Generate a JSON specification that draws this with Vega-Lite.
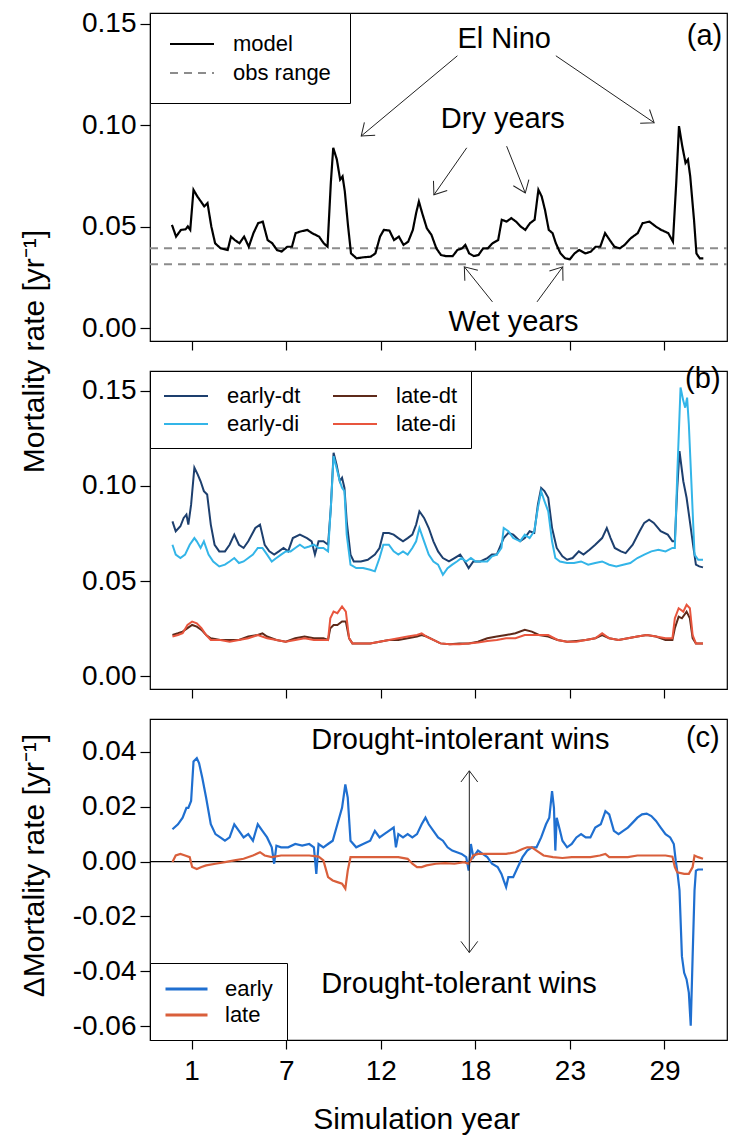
{
  "$schema": "https://vega.github.io/schema/vega-lite/v6.json",
  "background": "white",
  "padding": {"left": 18, "top": 9, "right": 5, "bottom": 5},
  "spacing": 30,
  "bounds": "flush",
  "config": {
    "font": "Liberation Sans",
    "view": {"stroke": "black", "strokeWidth": 1.2},
    "axis": {"domain": false, "grid": false, "tickColor": "black", "tickSize": 10, "tickWidth": 1.2, "labelFont": "Liberation Sans", "labelFontSize": 28, "labelColor": "black", "labelPadding": 4, "titleFont": "Liberation Sans", "titleFontSize": 30, "titleFontWeight": "normal", "titleColor": "black", "labelOverlap": false},
    "legend": {"labelFont": "Liberation Sans", "labelColor": "black"},
    "text": {"font": "Liberation Sans"}
  },
  "resolve": {"scale": {"color": "independent", "strokeDash": "independent"}, "legend": {"color": "independent", "strokeDash": "independent"}},
  "datasets": {
    "model": [
      {"year": -0.14, "rate": 0.0509}, {"year": 0.10, "rate": 0.0451}, {"year": 0.38, "rate": 0.0484}, {"year": 0.65, "rate": 0.0487}, {"year": 0.78, "rate": 0.0501}, {"year": 0.92, "rate": 0.0484}, {"year": 1.11, "rate": 0.0682}, {"year": 1.33, "rate": 0.0649}, {"year": 1.54, "rate": 0.0624}, {"year": 1.73, "rate": 0.0600}, {"year": 1.92, "rate": 0.0616}, {"year": 2.14, "rate": 0.0501}, {"year": 2.36, "rate": 0.0418}, {"year": 2.68, "rate": 0.0393}, {"year": 3.09, "rate": 0.0385}, {"year": 3.28, "rate": 0.0451}, {"year": 3.50, "rate": 0.0434}, {"year": 3.77, "rate": 0.0418}, {"year": 4.04, "rate": 0.0451}, {"year": 4.31, "rate": 0.0401}, {"year": 4.58, "rate": 0.0468}, {"year": 4.85, "rate": 0.0517}, {"year": 5.12, "rate": 0.0525}, {"year": 5.40, "rate": 0.0434}, {"year": 5.67, "rate": 0.0418}, {"year": 5.94, "rate": 0.0385}, {"year": 6.21, "rate": 0.0377}, {"year": 6.54, "rate": 0.0401}, {"year": 6.81, "rate": 0.0401}, {"year": 7.02, "rate": 0.0468}, {"year": 7.30, "rate": 0.0476}, {"year": 7.70, "rate": 0.0484}, {"year": 7.97, "rate": 0.0468}, {"year": 8.38, "rate": 0.0451}, {"year": 8.65, "rate": 0.0418}, {"year": 8.87, "rate": 0.0401}, {"year": 9.06, "rate": 0.0715}, {"year": 9.20, "rate": 0.0889}, {"year": 9.41, "rate": 0.0831}, {"year": 9.60, "rate": 0.0732}, {"year": 9.74, "rate": 0.0748}, {"year": 9.87, "rate": 0.0674}, {"year": 10.06, "rate": 0.0501}, {"year": 10.23, "rate": 0.0368}, {"year": 10.55, "rate": 0.0344}, {"year": 10.96, "rate": 0.0349}, {"year": 11.37, "rate": 0.0352}, {"year": 11.64, "rate": 0.0368}, {"year": 11.91, "rate": 0.0451}, {"year": 12.13, "rate": 0.0484}, {"year": 12.45, "rate": 0.0481}, {"year": 12.72, "rate": 0.0434}, {"year": 13.00, "rate": 0.0451}, {"year": 13.27, "rate": 0.0410}, {"year": 13.54, "rate": 0.0426}, {"year": 13.81, "rate": 0.0484}, {"year": 14.00, "rate": 0.0567}, {"year": 14.16, "rate": 0.0624}, {"year": 14.35, "rate": 0.0567}, {"year": 14.62, "rate": 0.0492}, {"year": 14.89, "rate": 0.0459}, {"year": 15.17, "rate": 0.0393}, {"year": 15.44, "rate": 0.0360}, {"year": 15.71, "rate": 0.0355}, {"year": 16.12, "rate": 0.0355}, {"year": 16.39, "rate": 0.0385}, {"year": 16.66, "rate": 0.0393}, {"year": 16.85, "rate": 0.0410}, {"year": 17.07, "rate": 0.0368}, {"year": 17.34, "rate": 0.0355}, {"year": 17.61, "rate": 0.0360}, {"year": 17.88, "rate": 0.0393}, {"year": 18.15, "rate": 0.0393}, {"year": 18.42, "rate": 0.0418}, {"year": 18.75, "rate": 0.0434}, {"year": 18.96, "rate": 0.0534}, {"year": 19.24, "rate": 0.0525}, {"year": 19.51, "rate": 0.0542}, {"year": 19.78, "rate": 0.0525}, {"year": 20.05, "rate": 0.0501}, {"year": 20.32, "rate": 0.0484}, {"year": 20.59, "rate": 0.0517}, {"year": 20.86, "rate": 0.0534}, {"year": 21.08, "rate": 0.0682}, {"year": 21.27, "rate": 0.0649}, {"year": 21.46, "rate": 0.0583}, {"year": 21.68, "rate": 0.0484}, {"year": 21.90, "rate": 0.0468}, {"year": 22.09, "rate": 0.0418}, {"year": 22.36, "rate": 0.0368}, {"year": 22.63, "rate": 0.0344}, {"year": 22.90, "rate": 0.0339}, {"year": 23.17, "rate": 0.0368}, {"year": 23.44, "rate": 0.0385}, {"year": 23.80, "rate": 0.0368}, {"year": 24.12, "rate": 0.0377}, {"year": 24.39, "rate": 0.0401}, {"year": 24.66, "rate": 0.0401}, {"year": 24.94, "rate": 0.0468}, {"year": 25.21, "rate": 0.0434}, {"year": 25.48, "rate": 0.0401}, {"year": 25.80, "rate": 0.0393}, {"year": 26.07, "rate": 0.0410}, {"year": 26.43, "rate": 0.0443}, {"year": 26.83, "rate": 0.0468}, {"year": 27.11, "rate": 0.0517}, {"year": 27.51, "rate": 0.0525}, {"year": 27.87, "rate": 0.0501}, {"year": 28.19, "rate": 0.0484}, {"year": 28.60, "rate": 0.0468}, {"year": 28.87, "rate": 0.0426}, {"year": 29.06, "rate": 0.0715}, {"year": 29.22, "rate": 0.0996}, {"year": 29.41, "rate": 0.0897}, {"year": 29.60, "rate": 0.0814}, {"year": 29.74, "rate": 0.0831}, {"year": 29.87, "rate": 0.0748}, {"year": 30.09, "rate": 0.0534}, {"year": 30.23, "rate": 0.0368}, {"year": 30.42, "rate": 0.0344}, {"year": 30.63, "rate": 0.0344}
    ],
    "obs": [
      {"series": "obs range", "year": -1.41, "year2": 32.0, "rate": 0.0393},
      {"series": "obs range", "year": -1.41, "year2": 32.0, "rate": 0.0314}
    ],
    "labelsA": [
      {"label": "El Nino", "year": 19.1, "rate": 0.1426},
      {"label": "Dry years", "year": 19.02, "rate": 0.1029},
      {"label": "Wet years", "year": 19.64, "rate": 0.003},
      {"label": "(a)", "year": 30.7, "rate": 0.1442}
    ],
    "arrowsA": [
      {"year": 16.39, "rate": 0.1343, "year2": 10.82, "rate2": 0.0947},
      {"year": 22.09, "rate": 0.1343, "year2": 27.78, "rate2": 0.1013},
      {"year": 16.93, "rate": 0.0889, "year2": 15.03, "rate2": 0.0657},
      {"year": 19.24, "rate": 0.0897, "year2": 20.32, "rate2": 0.0666},
      {"year": 18.42, "rate": 0.0129, "year2": 16.79, "rate2": 0.0302},
      {"year": 21.00, "rate": 0.0129, "year2": 22.49, "rate2": 0.0302}
    ],
    "headsA": [
      {"year": 10.82, "rate": 0.0947, "angle": 140},
      {"year": 27.78, "rate": 0.1013, "angle": 34},
      {"year": 15.03, "rate": 0.0657, "angle": 125},
      {"year": 20.32, "rate": 0.0666, "angle": 68},
      {"year": 16.79, "rate": 0.0302, "angle": 231},
      {"year": 22.49, "rate": 0.0302, "angle": 306}
    ],
    "groups": [
      {"series": "early-dt", "year": -0.11, "rate": 0.0814}, {"series": "early-dt", "year": 0.08, "rate": 0.0762}, {"series": "early-dt", "year": 0.35, "rate": 0.0788}, {"series": "early-dt", "year": 0.54, "rate": 0.0832}, {"series": "early-dt", "year": 0.70, "rate": 0.0850}, {"series": "early-dt", "year": 0.81, "rate": 0.0797}, {"series": "early-dt", "year": 0.97, "rate": 0.0902}, {"series": "early-dt", "year": 1.16, "rate": 0.1096}, {"series": "early-dt", "year": 1.35, "rate": 0.1061}, {"series": "early-dt", "year": 1.52, "rate": 0.1025}, {"series": "early-dt", "year": 1.71, "rate": 0.0973}, {"series": "early-dt", "year": 1.90, "rate": 0.0955}, {"series": "early-dt", "year": 2.11, "rate": 0.0797}, {"series": "early-dt", "year": 2.33, "rate": 0.0691}, {"series": "early-dt", "year": 2.60, "rate": 0.0656}, {"series": "early-dt", "year": 2.93, "rate": 0.0656}, {"series": "early-dt", "year": 3.20, "rate": 0.0691}, {"series": "early-dt", "year": 3.47, "rate": 0.0744}, {"series": "early-dt", "year": 3.74, "rate": 0.0691}, {"series": "early-dt", "year": 4.01, "rate": 0.0674}, {"series": "early-dt", "year": 4.28, "rate": 0.0709}, {"series": "early-dt", "year": 4.69, "rate": 0.0779}, {"series": "early-dt", "year": 4.96, "rate": 0.0797}, {"series": "early-dt", "year": 5.23, "rate": 0.0691}, {"series": "early-dt", "year": 5.50, "rate": 0.0656}, {"series": "early-dt", "year": 5.78, "rate": 0.0639}, {"series": "early-dt", "year": 6.05, "rate": 0.0656}, {"series": "early-dt", "year": 6.32, "rate": 0.0674}, {"series": "early-dt", "year": 6.59, "rate": 0.0656}, {"series": "early-dt", "year": 6.86, "rate": 0.0726}, {"series": "early-dt", "year": 7.27, "rate": 0.0744}, {"series": "early-dt", "year": 7.68, "rate": 0.0726}, {"series": "early-dt", "year": 7.95, "rate": 0.0709}, {"series": "early-dt", "year": 8.14, "rate": 0.0639}, {"series": "early-dt", "year": 8.35, "rate": 0.0709}, {"series": "early-dt", "year": 8.63, "rate": 0.0709}, {"series": "early-dt", "year": 8.90, "rate": 0.0691}, {"series": "early-dt", "year": 9.06, "rate": 0.0885}, {"series": "early-dt", "year": 9.22, "rate": 0.1175}, {"series": "early-dt", "year": 9.39, "rate": 0.1113}, {"series": "early-dt", "year": 9.58, "rate": 0.1025}, {"series": "early-dt", "year": 9.71, "rate": 0.1043}, {"series": "early-dt", "year": 9.85, "rate": 0.0990}, {"series": "early-dt", "year": 9.98, "rate": 0.0814}, {"series": "early-dt", "year": 10.20, "rate": 0.0639}, {"series": "early-dt", "year": 10.39, "rate": 0.0603}, {"series": "early-dt", "year": 10.80, "rate": 0.0603}, {"series": "early-dt", "year": 11.20, "rate": 0.0612}, {"series": "early-dt", "year": 11.61, "rate": 0.0639}, {"series": "early-dt", "year": 11.88, "rate": 0.0674}, {"series": "early-dt", "year": 12.10, "rate": 0.0753}, {"series": "early-dt", "year": 12.42, "rate": 0.0753}, {"series": "early-dt", "year": 12.70, "rate": 0.0744}, {"series": "early-dt", "year": 12.97, "rate": 0.0726}, {"series": "early-dt", "year": 13.24, "rate": 0.0709}, {"series": "early-dt", "year": 13.51, "rate": 0.0726}, {"series": "early-dt", "year": 13.78, "rate": 0.0744}, {"series": "early-dt", "year": 14.00, "rate": 0.0797}, {"series": "early-dt", "year": 14.19, "rate": 0.0867}, {"series": "early-dt", "year": 14.46, "rate": 0.0832}, {"series": "early-dt", "year": 14.73, "rate": 0.0779}, {"series": "early-dt", "year": 15.00, "rate": 0.0709}, {"series": "early-dt", "year": 15.27, "rate": 0.0656}, {"series": "early-dt", "year": 15.55, "rate": 0.0621}, {"series": "early-dt", "year": 15.90, "rate": 0.0603}, {"series": "early-dt", "year": 16.22, "rate": 0.0621}, {"series": "early-dt", "year": 16.55, "rate": 0.0639}, {"series": "early-dt", "year": 16.82, "rate": 0.0603}, {"series": "early-dt", "year": 17.04, "rate": 0.0568}, {"series": "early-dt", "year": 17.31, "rate": 0.0603}, {"series": "early-dt", "year": 17.72, "rate": 0.0603}, {"series": "early-dt", "year": 18.12, "rate": 0.0621}, {"series": "early-dt", "year": 18.39, "rate": 0.0639}, {"series": "early-dt", "year": 18.67, "rate": 0.0639}, {"series": "early-dt", "year": 19.07, "rate": 0.0726}, {"series": "early-dt", "year": 19.34, "rate": 0.0753}, {"series": "early-dt", "year": 19.62, "rate": 0.0744}, {"series": "early-dt", "year": 20.02, "rate": 0.0709}, {"series": "early-dt", "year": 20.29, "rate": 0.0726}, {"series": "early-dt", "year": 20.57, "rate": 0.0762}, {"series": "early-dt", "year": 20.84, "rate": 0.0753}, {"series": "early-dt", "year": 21.05, "rate": 0.0902}, {"series": "early-dt", "year": 21.24, "rate": 0.0990}, {"series": "early-dt", "year": 21.43, "rate": 0.0973}, {"series": "early-dt", "year": 21.65, "rate": 0.0938}, {"series": "early-dt", "year": 21.87, "rate": 0.0779}, {"series": "early-dt", "year": 22.14, "rate": 0.0674}, {"series": "early-dt", "year": 22.47, "rate": 0.0630}, {"series": "early-dt", "year": 22.74, "rate": 0.0612}, {"series": "early-dt", "year": 23.06, "rate": 0.0621}, {"series": "early-dt", "year": 23.42, "rate": 0.0656}, {"series": "early-dt", "year": 23.69, "rate": 0.0639}, {"series": "early-dt", "year": 24.04, "rate": 0.0665}, {"series": "early-dt", "year": 24.37, "rate": 0.0691}, {"series": "early-dt", "year": 24.77, "rate": 0.0726}, {"series": "early-dt", "year": 25.04, "rate": 0.0779}, {"series": "early-dt", "year": 25.26, "rate": 0.0726}, {"series": "early-dt", "year": 25.50, "rate": 0.0674}, {"series": "early-dt", "year": 25.86, "rate": 0.0656}, {"series": "early-dt", "year": 26.13, "rate": 0.0647}, {"series": "early-dt", "year": 26.54, "rate": 0.0691}, {"series": "early-dt", "year": 26.94, "rate": 0.0762}, {"series": "early-dt", "year": 27.21, "rate": 0.0806}, {"series": "early-dt", "year": 27.49, "rate": 0.0823}, {"series": "early-dt", "year": 27.76, "rate": 0.0806}, {"series": "early-dt", "year": 28.16, "rate": 0.0762}, {"series": "early-dt", "year": 28.57, "rate": 0.0744}, {"series": "early-dt", "year": 28.84, "rate": 0.0709}, {"series": "early-dt", "year": 28.98, "rate": 0.0709}, {"series": "early-dt", "year": 29.12, "rate": 0.0990}, {"series": "early-dt", "year": 29.25, "rate": 0.1184}, {"series": "early-dt", "year": 29.47, "rate": 0.1025}, {"series": "early-dt", "year": 29.66, "rate": 0.0938}, {"series": "early-dt", "year": 29.85, "rate": 0.0814}, {"series": "early-dt", "year": 30.06, "rate": 0.0674}, {"series": "early-dt", "year": 30.20, "rate": 0.0586}, {"series": "early-dt", "year": 30.39, "rate": 0.0577}, {"series": "early-dt", "year": 30.61, "rate": 0.0572},
      {"series": "early-di", "year": -0.11, "rate": 0.0691}, {"series": "early-di", "year": 0.08, "rate": 0.0639}, {"series": "early-di", "year": 0.35, "rate": 0.0621}, {"series": "early-di", "year": 0.62, "rate": 0.0639}, {"series": "early-di", "year": 0.89, "rate": 0.0691}, {"series": "early-di", "year": 1.16, "rate": 0.0726}, {"series": "early-di", "year": 1.30, "rate": 0.0709}, {"series": "early-di", "year": 1.52, "rate": 0.0674}, {"series": "early-di", "year": 1.71, "rate": 0.0709}, {"series": "early-di", "year": 1.98, "rate": 0.0639}, {"series": "early-di", "year": 2.25, "rate": 0.0603}, {"series": "early-di", "year": 2.60, "rate": 0.0577}, {"series": "early-di", "year": 2.93, "rate": 0.0586}, {"series": "early-di", "year": 3.20, "rate": 0.0603}, {"series": "early-di", "year": 3.47, "rate": 0.0621}, {"series": "early-di", "year": 3.74, "rate": 0.0595}, {"series": "early-di", "year": 4.01, "rate": 0.0603}, {"series": "early-di", "year": 4.28, "rate": 0.0621}, {"series": "early-di", "year": 4.55, "rate": 0.0639}, {"series": "early-di", "year": 4.83, "rate": 0.0674}, {"series": "early-di", "year": 5.10, "rate": 0.0674}, {"series": "early-di", "year": 5.37, "rate": 0.0639}, {"series": "early-di", "year": 5.64, "rate": 0.0603}, {"series": "early-di", "year": 5.91, "rate": 0.0621}, {"series": "early-di", "year": 6.18, "rate": 0.0639}, {"series": "early-di", "year": 6.45, "rate": 0.0656}, {"series": "early-di", "year": 6.73, "rate": 0.0656}, {"series": "early-di", "year": 7.00, "rate": 0.0674}, {"series": "early-di", "year": 7.27, "rate": 0.0691}, {"series": "early-di", "year": 7.54, "rate": 0.0674}, {"series": "early-di", "year": 7.81, "rate": 0.0682}, {"series": "early-di", "year": 8.08, "rate": 0.0691}, {"series": "early-di", "year": 8.35, "rate": 0.0674}, {"series": "early-di", "year": 8.63, "rate": 0.0674}, {"series": "early-di", "year": 8.90, "rate": 0.0656}, {"series": "early-di", "year": 9.06, "rate": 0.0885}, {"series": "early-di", "year": 9.22, "rate": 0.1157}, {"series": "early-di", "year": 9.39, "rate": 0.1096}, {"series": "early-di", "year": 9.58, "rate": 0.1025}, {"series": "early-di", "year": 9.71, "rate": 0.0990}, {"series": "early-di", "year": 9.85, "rate": 0.0973}, {"series": "early-di", "year": 9.98, "rate": 0.0744}, {"series": "early-di", "year": 10.20, "rate": 0.0586}, {"series": "early-di", "year": 10.53, "rate": 0.0568}, {"series": "early-di", "year": 10.93, "rate": 0.0568}, {"series": "early-di", "year": 11.34, "rate": 0.0559}, {"series": "early-di", "year": 11.61, "rate": 0.0551}, {"series": "early-di", "year": 11.88, "rate": 0.0621}, {"series": "early-di", "year": 12.10, "rate": 0.0691}, {"series": "early-di", "year": 12.42, "rate": 0.0691}, {"series": "early-di", "year": 12.70, "rate": 0.0656}, {"series": "early-di", "year": 12.97, "rate": 0.0639}, {"series": "early-di", "year": 13.24, "rate": 0.0656}, {"series": "early-di", "year": 13.51, "rate": 0.0639}, {"series": "early-di", "year": 13.78, "rate": 0.0674}, {"series": "early-di", "year": 14.00, "rate": 0.0709}, {"series": "early-di", "year": 14.19, "rate": 0.0779}, {"series": "early-di", "year": 14.46, "rate": 0.0709}, {"series": "early-di", "year": 14.73, "rate": 0.0639}, {"series": "early-di", "year": 15.00, "rate": 0.0603}, {"series": "early-di", "year": 15.27, "rate": 0.0586}, {"series": "early-di", "year": 15.55, "rate": 0.0533}, {"series": "early-di", "year": 15.82, "rate": 0.0568}, {"series": "early-di", "year": 16.09, "rate": 0.0586}, {"series": "early-di", "year": 16.36, "rate": 0.0603}, {"series": "early-di", "year": 16.63, "rate": 0.0621}, {"series": "early-di", "year": 16.90, "rate": 0.0603}, {"series": "early-di", "year": 17.17, "rate": 0.0621}, {"series": "early-di", "year": 17.45, "rate": 0.0603}, {"series": "early-di", "year": 17.72, "rate": 0.0603}, {"series": "early-di", "year": 18.12, "rate": 0.0603}, {"series": "early-di", "year": 18.39, "rate": 0.0630}, {"series": "early-di", "year": 18.67, "rate": 0.0639}, {"series": "early-di", "year": 18.94, "rate": 0.0674}, {"series": "early-di", "year": 19.07, "rate": 0.0779}, {"series": "early-di", "year": 19.34, "rate": 0.0762}, {"series": "early-di", "year": 19.62, "rate": 0.0726}, {"series": "early-di", "year": 20.02, "rate": 0.0709}, {"series": "early-di", "year": 20.29, "rate": 0.0744}, {"series": "early-di", "year": 20.57, "rate": 0.0726}, {"series": "early-di", "year": 20.84, "rate": 0.0762}, {"series": "early-di", "year": 21.05, "rate": 0.0885}, {"series": "early-di", "year": 21.24, "rate": 0.0973}, {"series": "early-di", "year": 21.43, "rate": 0.0920}, {"series": "early-di", "year": 21.65, "rate": 0.0867}, {"series": "early-di", "year": 21.87, "rate": 0.0709}, {"series": "early-di", "year": 22.06, "rate": 0.0621}, {"series": "early-di", "year": 22.33, "rate": 0.0603}, {"series": "early-di", "year": 22.74, "rate": 0.0595}, {"series": "early-di", "year": 23.14, "rate": 0.0595}, {"series": "early-di", "year": 23.55, "rate": 0.0603}, {"series": "early-di", "year": 23.96, "rate": 0.0586}, {"series": "early-di", "year": 24.37, "rate": 0.0595}, {"series": "early-di", "year": 24.77, "rate": 0.0603}, {"series": "early-di", "year": 25.18, "rate": 0.0586}, {"series": "early-di", "year": 25.59, "rate": 0.0577}, {"series": "early-di", "year": 25.99, "rate": 0.0586}, {"series": "early-di", "year": 26.40, "rate": 0.0595}, {"series": "early-di", "year": 26.81, "rate": 0.0621}, {"series": "early-di", "year": 27.21, "rate": 0.0639}, {"series": "early-di", "year": 27.62, "rate": 0.0656}, {"series": "early-di", "year": 28.03, "rate": 0.0665}, {"series": "early-di", "year": 28.44, "rate": 0.0656}, {"series": "early-di", "year": 28.84, "rate": 0.0674}, {"series": "early-di", "year": 28.98, "rate": 0.0674}, {"series": "early-di", "year": 29.12, "rate": 0.1061}, {"series": "early-di", "year": 29.31, "rate": 0.1518}, {"series": "early-di", "year": 29.47, "rate": 0.1448}, {"series": "early-di", "year": 29.58, "rate": 0.1412}, {"series": "early-di", "year": 29.69, "rate": 0.1465}, {"series": "early-di", "year": 29.79, "rate": 0.1325}, {"series": "early-di", "year": 29.96, "rate": 0.0973}, {"series": "early-di", "year": 30.12, "rate": 0.0639}, {"series": "early-di", "year": 30.33, "rate": 0.0612}, {"series": "early-di", "year": 30.61, "rate": 0.0612},
      {"series": "late-dt", "year": -0.11, "rate": 0.0216}, {"series": "late-dt", "year": 0.21, "rate": 0.0225}, {"series": "late-dt", "year": 0.48, "rate": 0.0234}, {"series": "late-dt", "year": 0.76, "rate": 0.0252}, {"series": "late-dt", "year": 1.03, "rate": 0.0269}, {"series": "late-dt", "year": 1.30, "rate": 0.0260}, {"series": "late-dt", "year": 1.57, "rate": 0.0243}, {"series": "late-dt", "year": 1.84, "rate": 0.0216}, {"series": "late-dt", "year": 2.11, "rate": 0.0199}, {"series": "late-dt", "year": 2.66, "rate": 0.0190}, {"series": "late-dt", "year": 3.20, "rate": 0.0190}, {"series": "late-dt", "year": 3.74, "rate": 0.0190}, {"series": "late-dt", "year": 4.28, "rate": 0.0208}, {"series": "late-dt", "year": 4.83, "rate": 0.0216}, {"series": "late-dt", "year": 5.10, "rate": 0.0225}, {"series": "late-dt", "year": 5.37, "rate": 0.0208}, {"series": "late-dt", "year": 5.91, "rate": 0.0190}, {"series": "late-dt", "year": 6.45, "rate": 0.0181}, {"series": "late-dt", "year": 7.00, "rate": 0.0199}, {"series": "late-dt", "year": 7.54, "rate": 0.0208}, {"series": "late-dt", "year": 8.08, "rate": 0.0199}, {"series": "late-dt", "year": 8.63, "rate": 0.0199}, {"series": "late-dt", "year": 8.90, "rate": 0.0190}, {"series": "late-dt", "year": 9.03, "rate": 0.0252}, {"series": "late-dt", "year": 9.22, "rate": 0.0269}, {"series": "late-dt", "year": 9.44, "rate": 0.0269}, {"series": "late-dt", "year": 9.71, "rate": 0.0287}, {"series": "late-dt", "year": 9.93, "rate": 0.0287}, {"series": "late-dt", "year": 10.12, "rate": 0.0199}, {"series": "late-dt", "year": 10.31, "rate": 0.0172}, {"series": "late-dt", "year": 10.80, "rate": 0.0172}, {"series": "late-dt", "year": 11.34, "rate": 0.0172}, {"series": "late-dt", "year": 11.88, "rate": 0.0181}, {"series": "late-dt", "year": 12.42, "rate": 0.0190}, {"series": "late-dt", "year": 12.97, "rate": 0.0190}, {"series": "late-dt", "year": 13.51, "rate": 0.0199}, {"series": "late-dt", "year": 14.05, "rate": 0.0208}, {"series": "late-dt", "year": 14.32, "rate": 0.0216}, {"series": "late-dt", "year": 14.60, "rate": 0.0208}, {"series": "late-dt", "year": 15.00, "rate": 0.0190}, {"series": "late-dt", "year": 15.41, "rate": 0.0172}, {"series": "late-dt", "year": 15.95, "rate": 0.0167}, {"series": "late-dt", "year": 16.50, "rate": 0.0172}, {"series": "late-dt", "year": 17.04, "rate": 0.0172}, {"series": "late-dt", "year": 17.58, "rate": 0.0181}, {"series": "late-dt", "year": 18.12, "rate": 0.0199}, {"series": "late-dt", "year": 18.67, "rate": 0.0208}, {"series": "late-dt", "year": 19.21, "rate": 0.0216}, {"series": "late-dt", "year": 19.75, "rate": 0.0225}, {"series": "late-dt", "year": 20.29, "rate": 0.0243}, {"series": "late-dt", "year": 20.70, "rate": 0.0234}, {"series": "late-dt", "year": 21.11, "rate": 0.0216}, {"series": "late-dt", "year": 21.65, "rate": 0.0208}, {"series": "late-dt", "year": 22.19, "rate": 0.0190}, {"series": "late-dt", "year": 22.74, "rate": 0.0181}, {"series": "late-dt", "year": 23.28, "rate": 0.0185}, {"series": "late-dt", "year": 23.82, "rate": 0.0190}, {"series": "late-dt", "year": 24.37, "rate": 0.0199}, {"series": "late-dt", "year": 24.77, "rate": 0.0216}, {"series": "late-dt", "year": 25.18, "rate": 0.0199}, {"series": "late-dt", "year": 25.72, "rate": 0.0190}, {"series": "late-dt", "year": 26.26, "rate": 0.0199}, {"series": "late-dt", "year": 26.81, "rate": 0.0208}, {"series": "late-dt", "year": 27.35, "rate": 0.0216}, {"series": "late-dt", "year": 27.89, "rate": 0.0208}, {"series": "late-dt", "year": 28.44, "rate": 0.0190}, {"series": "late-dt", "year": 28.84, "rate": 0.0190}, {"series": "late-dt", "year": 28.98, "rate": 0.0252}, {"series": "late-dt", "year": 29.20, "rate": 0.0313}, {"series": "late-dt", "year": 29.39, "rate": 0.0304}, {"series": "late-dt", "year": 29.66, "rate": 0.0339}, {"series": "late-dt", "year": 29.85, "rate": 0.0304}, {"series": "late-dt", "year": 30.01, "rate": 0.0199}, {"series": "late-dt", "year": 30.20, "rate": 0.0172}, {"series": "late-dt", "year": 30.61, "rate": 0.0172},
      {"series": "late-di", "year": -0.11, "rate": 0.0208}, {"series": "late-di", "year": 0.21, "rate": 0.0216}, {"series": "late-di", "year": 0.48, "rate": 0.0225}, {"series": "late-di", "year": 0.76, "rate": 0.0269}, {"series": "late-di", "year": 1.03, "rate": 0.0287}, {"series": "late-di", "year": 1.30, "rate": 0.0278}, {"series": "late-di", "year": 1.57, "rate": 0.0252}, {"series": "late-di", "year": 1.84, "rate": 0.0216}, {"series": "late-di", "year": 2.11, "rate": 0.0190}, {"series": "late-di", "year": 2.66, "rate": 0.0190}, {"series": "late-di", "year": 3.20, "rate": 0.0181}, {"series": "late-di", "year": 3.74, "rate": 0.0190}, {"series": "late-di", "year": 4.28, "rate": 0.0199}, {"series": "late-di", "year": 4.83, "rate": 0.0216}, {"series": "late-di", "year": 5.37, "rate": 0.0199}, {"series": "late-di", "year": 5.91, "rate": 0.0190}, {"series": "late-di", "year": 6.45, "rate": 0.0181}, {"series": "late-di", "year": 7.00, "rate": 0.0190}, {"series": "late-di", "year": 7.54, "rate": 0.0199}, {"series": "late-di", "year": 8.08, "rate": 0.0190}, {"series": "late-di", "year": 8.63, "rate": 0.0190}, {"series": "late-di", "year": 8.90, "rate": 0.0190}, {"series": "late-di", "year": 9.03, "rate": 0.0304}, {"series": "late-di", "year": 9.22, "rate": 0.0339}, {"series": "late-di", "year": 9.44, "rate": 0.0331}, {"series": "late-di", "year": 9.71, "rate": 0.0366}, {"series": "late-di", "year": 9.93, "rate": 0.0339}, {"series": "late-di", "year": 10.12, "rate": 0.0199}, {"series": "late-di", "year": 10.31, "rate": 0.0172}, {"series": "late-di", "year": 10.80, "rate": 0.0172}, {"series": "late-di", "year": 11.34, "rate": 0.0172}, {"series": "late-di", "year": 11.88, "rate": 0.0181}, {"series": "late-di", "year": 12.42, "rate": 0.0190}, {"series": "late-di", "year": 12.97, "rate": 0.0199}, {"series": "late-di", "year": 13.51, "rate": 0.0208}, {"series": "late-di", "year": 14.05, "rate": 0.0216}, {"series": "late-di", "year": 14.32, "rate": 0.0225}, {"series": "late-di", "year": 14.60, "rate": 0.0208}, {"series": "late-di", "year": 15.00, "rate": 0.0190}, {"series": "late-di", "year": 15.41, "rate": 0.0172}, {"series": "late-di", "year": 15.95, "rate": 0.0167}, {"series": "late-di", "year": 16.50, "rate": 0.0167}, {"series": "late-di", "year": 17.04, "rate": 0.0172}, {"series": "late-di", "year": 17.58, "rate": 0.0176}, {"series": "late-di", "year": 18.12, "rate": 0.0185}, {"series": "late-di", "year": 18.67, "rate": 0.0190}, {"series": "late-di", "year": 19.21, "rate": 0.0199}, {"series": "late-di", "year": 19.75, "rate": 0.0199}, {"series": "late-di", "year": 20.29, "rate": 0.0216}, {"series": "late-di", "year": 20.70, "rate": 0.0216}, {"series": "late-di", "year": 21.11, "rate": 0.0216}, {"series": "late-di", "year": 21.65, "rate": 0.0216}, {"series": "late-di", "year": 22.19, "rate": 0.0190}, {"series": "late-di", "year": 22.74, "rate": 0.0181}, {"series": "late-di", "year": 23.28, "rate": 0.0181}, {"series": "late-di", "year": 23.82, "rate": 0.0190}, {"series": "late-di", "year": 24.37, "rate": 0.0199}, {"series": "late-di", "year": 24.77, "rate": 0.0225}, {"series": "late-di", "year": 25.18, "rate": 0.0199}, {"series": "late-di", "year": 25.72, "rate": 0.0190}, {"series": "late-di", "year": 26.26, "rate": 0.0199}, {"series": "late-di", "year": 26.81, "rate": 0.0208}, {"series": "late-di", "year": 27.35, "rate": 0.0216}, {"series": "late-di", "year": 27.89, "rate": 0.0208}, {"series": "late-di", "year": 28.44, "rate": 0.0199}, {"series": "late-di", "year": 28.84, "rate": 0.0199}, {"series": "late-di", "year": 28.98, "rate": 0.0304}, {"series": "late-di", "year": 29.20, "rate": 0.0357}, {"series": "late-di", "year": 29.47, "rate": 0.0339}, {"series": "late-di", "year": 29.66, "rate": 0.0375}, {"series": "late-di", "year": 29.85, "rate": 0.0357}, {"series": "late-di", "year": 30.01, "rate": 0.0216}, {"series": "late-di", "year": 30.20, "rate": 0.0172}, {"series": "late-di", "year": 30.61, "rate": 0.0172}
    ],
    "labelsB": [
      {"label": "(b)", "year": 30.6, "rate": 0.1562}
    ],
    "delta": [
      {"series": "early", "year": -0.11, "rate": 0.0118}, {"series": "early", "year": 0.21, "rate": 0.0136}, {"series": "early", "year": 0.48, "rate": 0.0160}, {"series": "early", "year": 0.70, "rate": 0.0196}, {"series": "early", "year": 0.81, "rate": 0.0196}, {"series": "early", "year": 0.97, "rate": 0.0221}, {"series": "early", "year": 1.11, "rate": 0.0365}, {"series": "early", "year": 1.30, "rate": 0.0377}, {"series": "early", "year": 1.43, "rate": 0.0359}, {"series": "early", "year": 1.62, "rate": 0.0305}, {"series": "early", "year": 1.84, "rate": 0.0233}, {"series": "early", "year": 2.11, "rate": 0.0136}, {"series": "early", "year": 2.38, "rate": 0.0100}, {"series": "early", "year": 2.66, "rate": 0.0088}, {"series": "early", "year": 2.93, "rate": 0.0076}, {"series": "early", "year": 3.20, "rate": 0.0088}, {"series": "early", "year": 3.47, "rate": 0.0136}, {"series": "early", "year": 3.74, "rate": 0.0112}, {"series": "early", "year": 4.01, "rate": 0.0088}, {"series": "early", "year": 4.28, "rate": 0.0100}, {"series": "early", "year": 4.55, "rate": 0.0076}, {"series": "early", "year": 4.83, "rate": 0.0136}, {"series": "early", "year": 5.10, "rate": 0.0112}, {"series": "early", "year": 5.37, "rate": 0.0088}, {"series": "early", "year": 5.64, "rate": 0.0052}, {"series": "early", "year": 5.78, "rate": -0.0008}, {"series": "early", "year": 5.91, "rate": 0.0058}, {"series": "early", "year": 6.18, "rate": 0.0052}, {"series": "early", "year": 6.59, "rate": 0.0052}, {"series": "early", "year": 7.00, "rate": 0.0064}, {"series": "early", "year": 7.40, "rate": 0.0058}, {"series": "early", "year": 7.81, "rate": 0.0064}, {"series": "early", "year": 8.08, "rate": 0.0052}, {"series": "early", "year": 8.22, "rate": -0.0045}, {"series": "early", "year": 8.35, "rate": 0.0064}, {"series": "early", "year": 8.63, "rate": 0.0052}, {"series": "early", "year": 8.90, "rate": 0.0064}, {"series": "early", "year": 9.17, "rate": 0.0076}, {"series": "early", "year": 9.44, "rate": 0.0136}, {"series": "early", "year": 9.71, "rate": 0.0196}, {"series": "early", "year": 9.90, "rate": 0.0281}, {"series": "early", "year": 10.04, "rate": 0.0233}, {"series": "early", "year": 10.20, "rate": 0.0076}, {"series": "early", "year": 10.53, "rate": 0.0052}, {"series": "early", "year": 10.93, "rate": 0.0064}, {"series": "early", "year": 11.34, "rate": 0.0076}, {"series": "early", "year": 11.61, "rate": 0.0112}, {"series": "early", "year": 11.88, "rate": 0.0088}, {"series": "early", "year": 12.15, "rate": 0.0100}, {"series": "early", "year": 12.42, "rate": 0.0112}, {"series": "early", "year": 12.70, "rate": 0.0124}, {"series": "early", "year": 12.83, "rate": 0.0052}, {"series": "early", "year": 12.97, "rate": 0.0100}, {"series": "early", "year": 13.24, "rate": 0.0088}, {"series": "early", "year": 13.51, "rate": 0.0100}, {"series": "early", "year": 13.78, "rate": 0.0088}, {"series": "early", "year": 14.05, "rate": 0.0100}, {"series": "early", "year": 14.32, "rate": 0.0136}, {"series": "early", "year": 14.54, "rate": 0.0160}, {"series": "early", "year": 14.73, "rate": 0.0136}, {"series": "early", "year": 15.00, "rate": 0.0112}, {"series": "early", "year": 15.27, "rate": 0.0088}, {"series": "early", "year": 15.55, "rate": 0.0076}, {"series": "early", "year": 15.82, "rate": 0.0052}, {"series": "early", "year": 16.09, "rate": 0.0040}, {"series": "early", "year": 16.36, "rate": 0.0034}, {"series": "early", "year": 16.63, "rate": 0.0028}, {"series": "early", "year": 16.90, "rate": 0.0016}, {"series": "early", "year": 17.04, "rate": -0.0033}, {"series": "early", "year": 17.17, "rate": 0.0064}, {"series": "early", "year": 17.31, "rate": 0.0016}, {"series": "early", "year": 17.58, "rate": 0.0040}, {"series": "early", "year": 17.85, "rate": 0.0028}, {"series": "early", "year": 18.12, "rate": 0.0016}, {"series": "early", "year": 18.39, "rate": -0.0008}, {"series": "early", "year": 18.72, "rate": -0.0020}, {"series": "early", "year": 18.94, "rate": -0.0045}, {"series": "early", "year": 19.07, "rate": -0.0069}, {"series": "early", "year": 19.21, "rate": -0.0093}, {"series": "early", "year": 19.34, "rate": -0.0057}, {"series": "early", "year": 19.62, "rate": -0.0057}, {"series": "early", "year": 19.89, "rate": -0.0020}, {"series": "early", "year": 20.16, "rate": 0.0016}, {"series": "early", "year": 20.43, "rate": 0.0040}, {"series": "early", "year": 20.70, "rate": 0.0052}, {"series": "early", "year": 20.97, "rate": 0.0052}, {"series": "early", "year": 21.24, "rate": 0.0088}, {"series": "early", "year": 21.52, "rate": 0.0136}, {"series": "early", "year": 21.71, "rate": 0.0160}, {"series": "early", "year": 21.87, "rate": 0.0257}, {"series": "early", "year": 21.98, "rate": 0.0196}, {"series": "early", "year": 22.06, "rate": 0.0040}, {"series": "early", "year": 22.14, "rate": 0.0160}, {"series": "early", "year": 22.33, "rate": 0.0112}, {"series": "early", "year": 22.47, "rate": 0.0076}, {"series": "early", "year": 22.74, "rate": 0.0052}, {"series": "early", "year": 23.01, "rate": 0.0064}, {"series": "early", "year": 23.28, "rate": 0.0088}, {"series": "early", "year": 23.55, "rate": 0.0100}, {"series": "early", "year": 23.82, "rate": 0.0088}, {"series": "early", "year": 24.09, "rate": 0.0088}, {"series": "early", "year": 24.37, "rate": 0.0124}, {"series": "early", "year": 24.69, "rate": 0.0136}, {"series": "early", "year": 24.96, "rate": 0.0184}, {"series": "early", "year": 25.18, "rate": 0.0172}, {"series": "early", "year": 25.45, "rate": 0.0112}, {"series": "early", "year": 25.72, "rate": 0.0100}, {"series": "early", "year": 25.99, "rate": 0.0112}, {"series": "early", "year": 26.26, "rate": 0.0124}, {"series": "early", "year": 26.54, "rate": 0.0142}, {"series": "early", "year": 26.81, "rate": 0.0160}, {"series": "early", "year": 27.08, "rate": 0.0172}, {"series": "early", "year": 27.35, "rate": 0.0175}, {"series": "early", "year": 27.62, "rate": 0.0166}, {"series": "early", "year": 27.89, "rate": 0.0148}, {"series": "early", "year": 28.16, "rate": 0.0124}, {"series": "early", "year": 28.44, "rate": 0.0100}, {"series": "early", "year": 28.71, "rate": 0.0088}, {"series": "early", "year": 28.92, "rate": 0.0064}, {"series": "early", "year": 29.03, "rate": 0.0004}, {"series": "early", "year": 29.14, "rate": -0.0045}, {"series": "early", "year": 29.25, "rate": -0.0105}, {"series": "early", "year": 29.39, "rate": -0.0346}, {"series": "early", "year": 29.52, "rate": -0.0406}, {"series": "early", "year": 29.66, "rate": -0.0430}, {"series": "early", "year": 29.79, "rate": -0.0478}, {"series": "early", "year": 29.90, "rate": -0.0599}, {"series": "early", "year": 30.01, "rate": -0.0346}, {"series": "early", "year": 30.12, "rate": -0.0105}, {"series": "early", "year": 30.20, "rate": -0.0033}, {"series": "early", "year": 30.33, "rate": -0.0029}, {"series": "early", "year": 30.61, "rate": -0.0029},
      {"series": "late", "year": -0.11, "rate": -0.0002}, {"series": "late", "year": 0.08, "rate": 0.0022}, {"series": "late", "year": 0.35, "rate": 0.0028}, {"series": "late", "year": 0.62, "rate": 0.0022}, {"series": "late", "year": 0.89, "rate": 0.0016}, {"series": "late", "year": 1.03, "rate": -0.0020}, {"series": "late", "year": 1.30, "rate": -0.0027}, {"series": "late", "year": 1.57, "rate": -0.0020}, {"series": "late", "year": 1.84, "rate": -0.0014}, {"series": "late", "year": 2.38, "rate": -0.0008}, {"series": "late", "year": 2.93, "rate": -0.0002}, {"series": "late", "year": 3.47, "rate": 0.0004}, {"series": "late", "year": 4.01, "rate": 0.0010}, {"series": "late", "year": 4.55, "rate": 0.0022}, {"series": "late", "year": 4.96, "rate": 0.0034}, {"series": "late", "year": 5.23, "rate": 0.0022}, {"series": "late", "year": 5.64, "rate": 0.0016}, {"series": "late", "year": 6.18, "rate": 0.0022}, {"series": "late", "year": 6.73, "rate": 0.0022}, {"series": "late", "year": 7.27, "rate": 0.0022}, {"series": "late", "year": 7.81, "rate": 0.0022}, {"series": "late", "year": 8.35, "rate": 0.0018}, {"series": "late", "year": 8.63, "rate": 0.0004}, {"series": "late", "year": 8.90, "rate": -0.0057}, {"series": "late", "year": 9.17, "rate": -0.0069}, {"series": "late", "year": 9.44, "rate": -0.0075}, {"series": "late", "year": 9.71, "rate": -0.0081}, {"series": "late", "year": 9.90, "rate": -0.0099}, {"series": "late", "year": 10.04, "rate": -0.0033}, {"series": "late", "year": 10.20, "rate": 0.0016}, {"series": "late", "year": 10.80, "rate": 0.0016}, {"series": "late", "year": 11.34, "rate": 0.0016}, {"series": "late", "year": 11.88, "rate": 0.0016}, {"series": "late", "year": 12.42, "rate": 0.0016}, {"series": "late", "year": 12.97, "rate": 0.0016}, {"series": "late", "year": 13.51, "rate": 0.0010}, {"series": "late", "year": 13.78, "rate": -0.0008}, {"series": "late", "year": 14.05, "rate": -0.0020}, {"series": "late", "year": 14.32, "rate": -0.0020}, {"series": "late", "year": 14.60, "rate": -0.0014}, {"series": "late", "year": 15.14, "rate": -0.0008}, {"series": "late", "year": 15.68, "rate": -0.0006}, {"series": "late", "year": 16.22, "rate": -0.0008}, {"series": "late", "year": 16.77, "rate": -0.0002}, {"series": "late", "year": 17.04, "rate": -0.0008}, {"series": "late", "year": 17.31, "rate": 0.0022}, {"series": "late", "year": 17.58, "rate": 0.0028}, {"series": "late", "year": 18.12, "rate": 0.0028}, {"series": "late", "year": 18.67, "rate": 0.0028}, {"series": "late", "year": 19.21, "rate": 0.0028}, {"series": "late", "year": 19.75, "rate": 0.0034}, {"series": "late", "year": 20.16, "rate": 0.0046}, {"series": "late", "year": 20.43, "rate": 0.0052}, {"series": "late", "year": 20.70, "rate": 0.0052}, {"series": "late", "year": 20.97, "rate": 0.0040}, {"series": "late", "year": 21.38, "rate": 0.0022}, {"series": "late", "year": 21.92, "rate": 0.0016}, {"series": "late", "year": 22.47, "rate": 0.0013}, {"series": "late", "year": 23.01, "rate": 0.0016}, {"series": "late", "year": 23.55, "rate": 0.0016}, {"series": "late", "year": 24.09, "rate": 0.0016}, {"series": "late", "year": 24.64, "rate": 0.0022}, {"series": "late", "year": 24.96, "rate": 0.0028}, {"series": "late", "year": 25.18, "rate": 0.0016}, {"series": "late", "year": 25.72, "rate": 0.0016}, {"series": "late", "year": 26.26, "rate": 0.0016}, {"series": "late", "year": 26.81, "rate": 0.0022}, {"series": "late", "year": 27.35, "rate": 0.0022}, {"series": "late", "year": 27.89, "rate": 0.0022}, {"series": "late", "year": 28.44, "rate": 0.0022}, {"series": "late", "year": 28.84, "rate": 0.0018}, {"series": "late", "year": 28.98, "rate": -0.0020}, {"series": "late", "year": 29.12, "rate": -0.0039}, {"series": "late", "year": 29.52, "rate": -0.0045}, {"series": "late", "year": 29.79, "rate": -0.0045}, {"series": "late", "year": 30.01, "rate": -0.0020}, {"series": "late", "year": 30.12, "rate": 0.0022}, {"series": "late", "year": 30.33, "rate": 0.0016}, {"series": "late", "year": 30.61, "rate": 0.0010}
    ],
    "zeroC": [
      {"year": -1.41, "year2": 32.0, "rate": 0}
    ],
    "labelsC": [
      {"label": "Drought-intolerant wins", "year": 16.56, "rate": 0.0444},
      {"label": "Drought-tolerant wins", "year": 16.48, "rate": -0.0447},
      {"label": "(c)", "year": 30.6, "rate": 0.0451}
    ],
    "arrowsC": [
      {"year": 17.08, "rate": 0, "year2": 17.08, "rate2": 0.0331},
      {"year": 17.08, "rate": 0, "year2": 17.08, "rate2": -0.0332}
    ],
    "headsC": [
      {"year": 17.08, "rate": 0.0331, "angle": 270},
      {"year": 17.08, "rate": -0.0332, "angle": 90}
    ]
  },
  "vconcat": [
    {
      "width": 577,
      "height": 328,
      "encoding": {
        "x": {"field": "year", "type": "quantitative", "scale": {"domain": [-1.41, 32.0], "nice": false, "zero": false}, "axis": {"values": [1, 6.476, 11.952, 17.428, 22.904, 28.38], "labels": false, "title": null, "tickSize": 9}},
        "y": {"field": "rate", "type": "quantitative", "scale": {"domain": [-0.0064, 0.1554], "nice": false, "zero": false}, "axis": {"values": [0, 0.05, 0.1, 0.15], "labelExpr": "format(datum.value, '.2f')", "title": "Mortality rate [yr⁻¹]", "titleX": -107, "titleY": 338, "titleBaseline": "alphabetic", "titleAngle": 270}}
      },
      "layer": [
        {
          "data": {"name": "obs"},
          "mark": {"type": "rule", "strokeWidth": 2},
          "encoding": {
            "x2": {"field": "year2"},
            "color": {"field": "series", "type": "nominal", "scale": {"domain": ["model", "obs range"], "range": ["black", "#8c8c8c"]}, "legend": {"title": null, "orient": "top-left", "offset": 0, "padding": 19, "strokeColor": "black", "fillColor": "white", "symbolType": "M-1,0L3,0", "symbolSize": 484, "symbolStrokeWidth": 2, "labelFontSize": 22, "labelOffset": 40, "rowPadding": 6, "cornerRadius": 0}},
            "strokeDash": {"field": "series", "type": "nominal", "scale": {"domain": ["model", "obs range"], "range": [[1, 0], [8, 6]]}, "legend": {"title": null, "orient": "top-left", "offset": 0, "padding": 19, "strokeColor": "black", "fillColor": "white", "symbolType": "M-1,0L3,0", "symbolSize": 484, "symbolStrokeWidth": 2, "labelFontSize": 22, "labelOffset": 40, "rowPadding": 6, "cornerRadius": 0}}
          }
        },
        {
          "data": {"name": "model"},
          "transform": [{"calculate": "'model'", "as": "series"}],
          "mark": {"type": "line", "strokeWidth": 2.2},
          "encoding": {
            "color": {"field": "series", "type": "nominal", "scale": {"domain": ["model", "obs range"], "range": ["black", "#8c8c8c"]}, "legend": {"title": null, "orient": "top-left", "offset": 0, "padding": 19, "strokeColor": "black", "fillColor": "white", "symbolType": "M-1,0L3,0", "symbolSize": 484, "symbolStrokeWidth": 2, "labelFontSize": 22, "labelOffset": 40, "rowPadding": 6, "cornerRadius": 0}},
            "strokeDash": {"field": "series", "type": "nominal", "scale": {"domain": ["model", "obs range"], "range": [[1, 0], [8, 6]]}, "legend": {"title": null, "orient": "top-left", "offset": 0, "padding": 19, "strokeColor": "black", "fillColor": "white", "symbolType": "M-1,0L3,0", "symbolSize": 484, "symbolStrokeWidth": 2, "labelFontSize": 22, "labelOffset": 40, "rowPadding": 6, "cornerRadius": 0}}
          }
        },
        {
          "data": {"name": "arrowsA"},
          "mark": {"type": "rule", "color": "#222222", "strokeWidth": 1},
          "encoding": {"x2": {"field": "year2"}, "y2": {"field": "rate2"}}
        },
        {
          "data": {"name": "headsA"},
          "mark": {"type": "point", "shape": "M-1,-0.75L0,0L-1,0.75", "filled": false, "size": 500, "strokeWidth": 1, "color": "#222222", "opacity": 1},
          "encoding": {"angle": {"field": "angle", "type": "quantitative", "scale": null}}
        },
        {
          "data": {"name": "labelsA"},
          "mark": {"type": "text", "fontSize": 29, "color": "black", "align": "center", "baseline": "middle"},
          "encoding": {"text": {"field": "label"}}
        }
      ]
    },
    {
      "width": 577,
      "height": 318,
      "encoding": {
        "x": {"field": "year", "type": "quantitative", "scale": {"domain": [-1.41, 32.0], "nice": false, "zero": false}, "axis": {"values": [1, 6.476, 11.952, 17.428, 22.904, 28.38], "labels": false, "title": null, "tickSize": 9}},
        "y": {"field": "rate", "type": "quantitative", "scale": {"domain": [-0.0068, 0.1605], "nice": false, "zero": false}, "axis": {"values": [0, 0.05, 0.1, 0.15], "labelExpr": "format(datum.value, '.2f')", "title": null}}
      },
      "layer": [
        {
          "data": {"name": "groups"},
          "mark": {"type": "line", "strokeWidth": 2},
          "encoding": {
            "color": {"field": "series", "type": "nominal", "scale": {"domain": ["early-dt", "early-di", "late-dt", "late-di"], "range": ["#1d3f6e", "#33b5e8", "#5e2a1a", "#e8553d"]}, "legend": {"title": null, "orient": "top-left", "offset": 0, "padding": 13, "strokeColor": "black", "fillColor": "white", "symbolType": "M-1,0L3,0", "symbolSize": 484, "symbolStrokeWidth": 2, "labelFontSize": 22, "labelOffset": 40, "rowPadding": 5, "columns": 2, "columnPadding": 28, "cornerRadius": 0}}
          }
        },
        {
          "data": {"name": "labelsB"},
          "mark": {"type": "text", "fontSize": 29, "color": "black", "align": "center", "baseline": "middle"},
          "encoding": {"text": {"field": "label"}}
        }
      ]
    },
    {
      "width": 577,
      "height": 321,
      "encoding": {
        "x": {"field": "year", "type": "quantitative", "scale": {"domain": [-1.41, 32.0], "nice": false, "zero": false}, "axis": {"values": [1, 6.476, 11.952, 17.428, 22.904, 28.38], "labelExpr": "ceil(datum.value)", "title": "Simulation year", "tickSize": 9, "labelPadding": 8, "titleX": 266, "titleY": 88, "titleBaseline": "alphabetic"}},
        "y": {"field": "rate", "type": "quantitative", "scale": {"domain": [-0.0651, 0.052], "nice": false, "zero": false}, "axis": {"values": [-0.06, -0.04, -0.02, 0, 0.02, 0.04], "labelExpr": "replace(format(datum.value, '.2f'), '−', '-')", "title": "ΔMortality rate [yr⁻¹]", "titleX": -107, "titleY": 146, "titleBaseline": "alphabetic", "titleAngle": 270}}
      },
      "layer": [
        {
          "data": {"name": "zeroC"},
          "mark": {"type": "rule", "color": "black", "strokeWidth": 1.2},
          "encoding": {"x2": {"field": "year2"}}
        },
        {
          "data": {"name": "delta"},
          "mark": {"type": "line", "strokeWidth": 2.2},
          "encoding": {
            "color": {"field": "series", "type": "nominal", "scale": {"domain": ["early", "late"], "range": ["#1f6fd0", "#d95f3b"]}, "legend": {"title": null, "orient": "bottom-left", "offset": 0, "padding": 14, "strokeColor": "black", "fillColor": "white", "symbolType": "M-1,0L3,0", "symbolSize": 441, "symbolStrokeWidth": 3, "labelFontSize": 22, "labelOffset": 37, "rowPadding": 3, "cornerRadius": 0}}
          }
        },
        {
          "data": {"name": "arrowsC"},
          "mark": {"type": "rule", "color": "#222222", "strokeWidth": 1},
          "encoding": {"x2": {"field": "year2"}, "y2": {"field": "rate2"}}
        },
        {
          "data": {"name": "headsC"},
          "mark": {"type": "point", "shape": "M-1,-0.75L0,0L-1,0.75", "filled": false, "size": 500, "strokeWidth": 1, "color": "#222222", "opacity": 1},
          "encoding": {"angle": {"field": "angle", "type": "quantitative", "scale": null}}
        },
        {
          "data": {"name": "labelsC"},
          "mark": {"type": "text", "fontSize": 29, "color": "black", "align": "center", "baseline": "middle"},
          "encoding": {"text": {"field": "label"}}
        }
      ]
    }
  ]
}
